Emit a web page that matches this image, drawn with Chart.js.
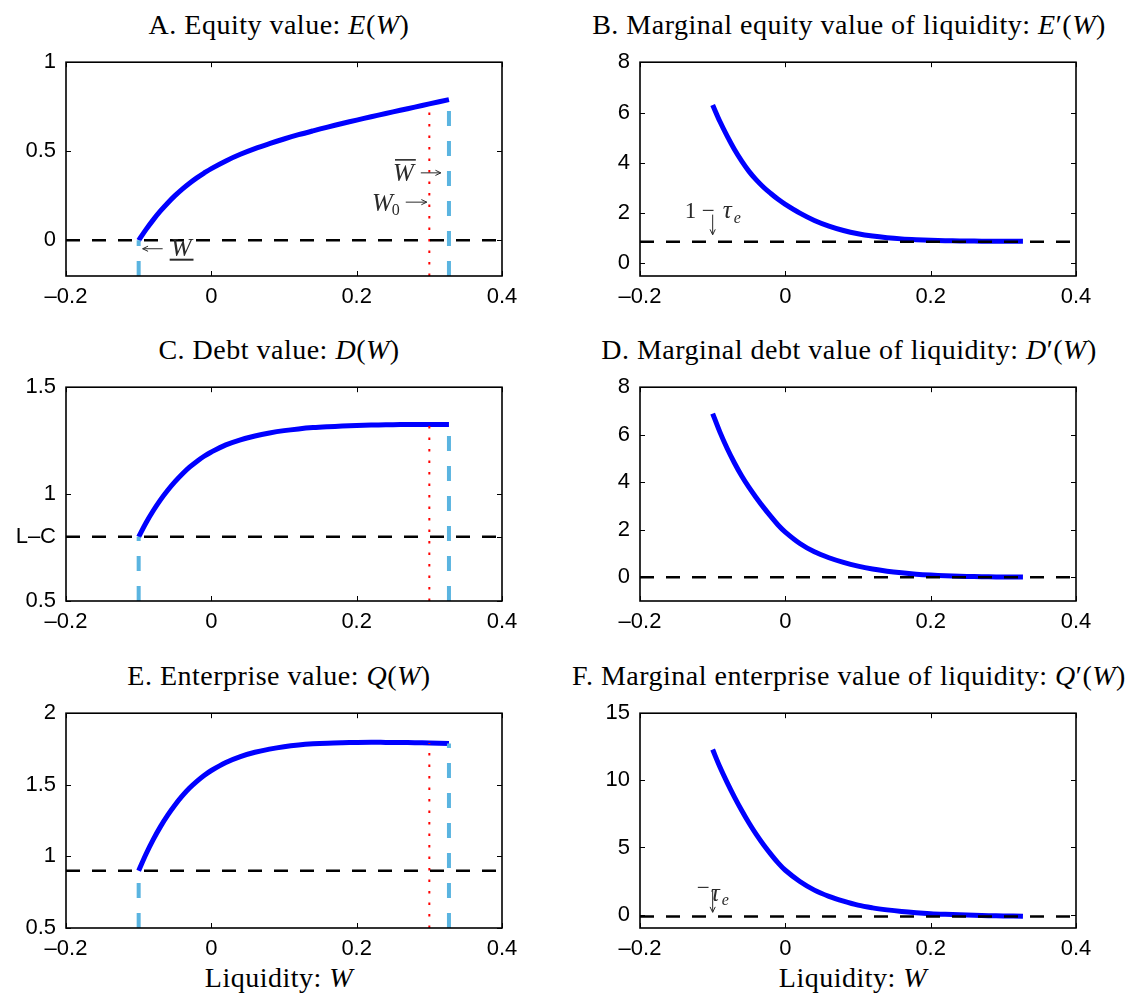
<!DOCTYPE html>
<html>
<head>
<meta charset="utf-8">
<script src="https://cdn.jsdelivr.net/npm/chart.js@4.4.1/dist/chart.umd.min.js"></script>
<style>
  body { margin: 0; background: #fff; }
  #page { position: relative; width: 1127px; height: 995px; overflow: hidden; background: #fff; }
  #page canvas { position: absolute; }
  .title {
    position: absolute; white-space: nowrap; color: #000;
    font-family: "Liberation Serif", serif; font-size: 28px; line-height: 28px;
    letter-spacing: 0.5px;
    transform: translateX(-50%);
  }
</style>
</head>
<body>
<div id="page"></div>
<script>
// liquidity grid W and the six value functions
const wGrid = [-0.1, -0.09, -0.08, -0.07, -0.06, -0.05, -0.04, -0.03, -0.02, -0.01, 0,
  0.02, 0.04, 0.06, 0.08, 0.1, 0.12, 0.14, 0.16, 0.18, 0.2, 0.22, 0.24, 0.26, 0.28, 0.3, 0.327];
const equityValue = [0, 0.06, 0.115, 0.165, 0.21, 0.251, 0.288, 0.321, 0.351, 0.378, 0.403,
  0.446, 0.483, 0.515, 0.543, 0.569, 0.593, 0.615, 0.636, 0.656, 0.675, 0.694, 0.712, 0.73, 0.748, 0.766, 0.79];
const marginalEquity = [6.3, 5.64, 5.06, 4.53, 4.07, 3.66, 3.32, 3.03, 2.78, 2.55, 2.35,
  2.0, 1.71, 1.485, 1.31, 1.18, 1.088, 1.022, 0.976, 0.945, 0.922, 0.906, 0.895, 0.887, 0.881, 0.878, 0.877];
const debtValue = [0.8, 0.865, 0.922, 0.973, 1.018, 1.058, 1.094, 1.126, 1.153, 1.177, 1.197,
  1.23, 1.254, 1.272, 1.286, 1.297, 1.305, 1.311, 1.315, 1.318, 1.321, 1.323, 1.324, 1.325, 1.326, 1.326, 1.326];
const marginalDebt = [6.89, 6.11, 5.42, 4.81, 4.26, 3.78, 3.35, 2.94, 2.56, 2.2, 1.9,
  1.42, 1.07, 0.82, 0.625, 0.468, 0.346, 0.254, 0.185, 0.131, 0.092, 0.063, 0.042, 0.027, 0.017, 0.011, 0.006];
const enterpriseValue = [0.9, 1.015, 1.117, 1.208, 1.288, 1.359, 1.422, 1.477, 1.524, 1.565, 1.6,
  1.656, 1.697, 1.727, 1.749, 1.766, 1.778, 1.786, 1.791, 1.794, 1.796, 1.797, 1.796, 1.795, 1.794, 1.792, 1.789];
const marginalEnterprise = [12.29, 10.99, 9.83, 8.75, 7.75, 6.82, 5.97, 5.2, 4.5, 3.85, 3.3,
  2.46, 1.82, 1.36, 1.0, 0.7, 0.5, 0.35, 0.23, 0.14, 0.07, 0.02, -0.02, -0.05, -0.08, -0.1, -0.12];

// boundaries and reference levels
const lowerW = -0.1;   // liquidation boundary (W underline)
const upperW = 0.327;  // payout boundary (W bar)
const w0 = 0.3;        // initial liquidity
const levelA = 0, levelB = 0.86, levelC = 0.8, levelD = 0, levelE = 0.9, levelF = -0.14;

// axes
const xRange = [-0.2, 0.4];
const xTicks = [-0.2, 0, 0.2, 0.4];
const yRangeA = [-0.2, 1], yTicksA = [0, 0.5, 1];
const yRangeB = [-0.5, 8], yTicksB = [0, 2, 4, 6, 8];
const yRangeC = [0.5, 1.5], yTicksC = [0.5, 0.8, 1, 1.5], yTickLabelsC = ['0.5', 'L\u2013C', '1', '1.5'];
const yRangeD = [-1, 8], yTicksD = [0, 2, 4, 6, 8];
const yRangeE = [0.5, 2], yTicksE = [0.5, 1, 1.5, 2];
const yRangeF = [-1, 15], yTicksF = [0, 5, 10, 15];

// layout
const colLeft = [66, 640];
const titleShift = [-5, -9];
const rowTop = [55, 380, 706];
const plotH = [221, 221, 222];
const plotW = 436;
const axisW = 66, axisH = 40, padTop = 16, canvasW = 540;

const tickFont = { family: '"Liberation Sans", Arial, sans-serif', size: 22 };
const noteColor = '#2a2a2a';
const fmt = v => String(Math.round(v * 100) / 100).replace('-', '\u2013');

function put(ctx, str, x, y, font) {
  ctx.font = font;
  ctx.fillText(str, x, y);
  return ctx.measureText(str).width;
}
function seg(ctx, x1, y1, x2, y2, w) {
  ctx.lineWidth = w;
  ctx.beginPath(); ctx.moveTo(x1, y1); ctx.lineTo(x2, y2); ctx.stroke();
}
function arrow(ctx, x1, y1, x2, y2) {
  seg(ctx, x1, y1, x2, y2, 1);
  const a = Math.atan2(y2 - y1, x2 - x1), h = 6;
  ctx.beginPath();
  ctx.moveTo(x2 - h * Math.cos(a - 0.45), y2 - h * Math.sin(a - 0.45));
  ctx.lineTo(x2, y2);
  ctx.lineTo(x2 - h * Math.cos(a + 0.45), y2 - h * Math.sin(a + 0.45));
  ctx.stroke();
}

const it = 'italic 25px "Liberation Serif", serif';
const rm = '23px "Liberation Serif", serif';
const sub = '16px "Liberation Serif", serif';
const subIt = 'italic 16px "Liberation Serif", serif';

const notes = {
  A(chart) {
    const { ctx, scales: { x, y } } = chart;
    // W bar ->
    let px = x.getPixelForValue(0.25), py = y.getPixelForValue(0.334);
    let w = put(ctx, 'W', px, py, it);
    seg(ctx, px + 2, py - 21, px + w + 2, py - 21, 1.6);
    arrow(ctx, px + w + 7, py - 8, px + w + 27, py - 8);
    // W0 ->
    px = x.getPixelForValue(0.221); py = y.getPixelForValue(0.164);
    w = put(ctx, 'W', px, py, it);
    w += put(ctx, '0', px + w - 1, py + 4, sub);
    arrow(ctx, px + w + 5, py - 9, px + w + 26, py - 9);
    // <- W underline
    px = x.getPixelForValue(lowerW) + 4; py = y.getPixelForValue(-0.047);
    arrow(ctx, px + 20, py, px, py);
    const wx = px + 28, wy = y.getPixelForValue(-0.086);
    w = put(ctx, 'W', wx, wy, it);
    seg(ctx, wx - 1, wy + 4, wx + w + 2, wy + 4, 2);
  },
  B(chart) {
    const { ctx, scales: { x, y } } = chart;
    const ax = x.getPixelForValue(lowerW);
    const py = y.getPixelForValue(1.8);
    put(ctx, '1', ax - 28, py, rm);
    put(ctx, '\u2212', ax - 11, py, rm);
    put(ctx, '\u03C4', ax + 10, py, it);
    put(ctx, 'e', ax + 21, py + 5, subIt);
    arrow(ctx, ax, y.getPixelForValue(1.94), ax, y.getPixelForValue(1.14));
  },
  F(chart) {
    const { ctx, scales: { x, y } } = chart;
    const ax = x.getPixelForValue(lowerW);
    const py = y.getPixelForValue(1.03);
    put(ctx, '\u2212', ax - 16, py - 6, rm);
    put(ctx, '\u03C4', ax - 2, py, it);
    put(ctx, 'e', ax + 9, py + 4, subIt);
    arrow(ctx, ax, y.getPixelForValue(1.9), ax, y.getPixelForValue(0.17));
  }
};

// box with inward ticks on all four sides
const matlabFrame = {
  id: 'matlabFrame',
  afterDraw(chart) {
    const { ctx, chartArea: a, scales: { x, y } } = chart;
    ctx.save();
    ctx.strokeStyle = '#000';
    ctx.lineWidth = 1;
    ctx.beginPath();
    x.ticks.forEach(t => {
      const px = Math.round(x.getPixelForValue(t.value)) + 0.5;
      ctx.moveTo(px, a.bottom); ctx.lineTo(px, a.bottom - 5);
      ctx.moveTo(px, a.top); ctx.lineTo(px, a.top + 5);
    });
    y.ticks.forEach(t => {
      const py = Math.round(y.getPixelForValue(t.value)) + 0.5;
      ctx.moveTo(a.left, py); ctx.lineTo(a.left + 5, py);
      ctx.moveTo(a.right, py); ctx.lineTo(a.right - 5, py);
    });
    ctx.stroke();
    ctx.lineWidth = 1.6;
    ctx.strokeRect(a.left, a.top, a.right - a.left, a.bottom - a.top);
    ctx.fillStyle = noteColor;
    ctx.strokeStyle = noteColor;
    ctx.textBaseline = 'alphabetic';
    ctx.textAlign = 'left';
    const key = chart.canvas.dataset.key;
    if (notes[key]) notes[key](chart);
    ctx.restore();
  }
};

const panels = [
  { key: 'A', col: 0, row: 0, title: 'A. Equity value: <i>E</i>(<i>W</i>)',
    values: equityValue, yRange: yRangeA, yTicks: yTicksA, level: levelA, bounds: true },
  { key: 'B', col: 1, row: 0, title: 'B. Marginal equity value of liquidity: <i>E</i>\u2032(<i>W</i>)',
    values: marginalEquity, yRange: yRangeB, yTicks: yTicksB, level: levelB, bounds: false },
  { key: 'C', col: 0, row: 1, title: 'C. Debt value: <i>D</i>(<i>W</i>)',
    values: debtValue, yRange: yRangeC, yTicks: yTicksC, yLabels: yTickLabelsC, level: levelC, bounds: true },
  { key: 'D', col: 1, row: 1, title: 'D. Marginal debt value of liquidity: <i>D</i>\u2032(<i>W</i>)',
    values: marginalDebt, yRange: yRangeD, yTicks: yTicksD, level: levelD, bounds: false },
  { key: 'E', col: 0, row: 2, title: 'E. Enterprise value: <i>Q</i>(<i>W</i>)',
    values: enterpriseValue, yRange: yRangeE, yTicks: yTicksE, level: levelE, bounds: true, xLabel: true },
  { key: 'F', col: 1, row: 2, title: 'F. Marginal enterprise value of liquidity: <i>Q</i>\u2032(<i>W</i>)',
    values: marginalEnterprise, yRange: yRangeF, yTicks: yTicksF, level: levelF, bounds: false, xLabel: true }
];

const page = document.getElementById('page');

panels.forEach(p => {
  const left = colLeft[p.col], top = rowTop[p.row], h = plotH[p.row];
  const cx = left + plotW / 2 + titleShift[p.col];

  const title = document.createElement('div');
  title.className = 'title';
  title.innerHTML = p.title;
  title.style.left = cx + 'px';
  title.style.top = (top - 21 - 23.5) + 'px';
  page.appendChild(title);

  if (p.xLabel) {
    const xl = document.createElement('div');
    xl.className = 'title';
    xl.innerHTML = 'Liquidity: <i>W</i>';
    xl.style.left = (left + plotW / 2 - 5) + 'px';
    xl.style.top = (987 - 23.5) + 'px';
    page.appendChild(xl);
  }

  const canvas = document.createElement('canvas');
  canvas.width = canvasW;
  canvas.height = padTop + h + axisH;
  canvas.style.left = (left - axisW) + 'px';
  canvas.style.top = (top - padTop) + 'px';
  canvas.dataset.key = p.key;
  page.appendChild(canvas);

  const yMin = p.yRange[0];
  const last = p.values.length - 1;
  const datasets = [
    {
      data: wGrid.map((w, i) => ({ x: w, y: p.values[i] })),
      borderColor: '#0000ff', borderWidth: 5, tension: 0.35, order: 3
    },
    {
      data: [{ x: xRange[0], y: p.level }, { x: xRange[1], y: p.level }],
      borderColor: '#000', borderWidth: 2.5, borderDash: [14, 12], order: 1
    }
  ];
  if (p.bounds) {
    const iw0 = wGrid.indexOf(w0);
    datasets.push(
      { data: [{ x: lowerW, y: yMin }, { x: lowerW, y: p.values[0] }],
        borderColor: '#5ab4e0', borderWidth: 4, borderDash: [15, 15], order: 2 },
      { data: [{ x: upperW, y: yMin }, { x: upperW, y: p.values[last] }],
        borderColor: '#5ab4e0', borderWidth: 4, borderDash: [15, 15], order: 2 },
      { data: [{ x: w0, y: yMin }, { x: w0, y: p.values[iw0] }],
        borderColor: '#ff0000', borderWidth: 2, borderDash: [2.5, 9], order: 2 }
    );
  }

  new Chart(canvas, {
    type: 'line',
    data: { datasets },
    options: {
      responsive: false,
      animation: false,
      devicePixelRatio: 1,
      events: [],
      elements: { point: { radius: 0 }, line: { borderCapStyle: 'butt' } },
      layout: { padding: { top: padTop, right: canvasW - axisW - plotW, left: 0, bottom: 0 } },
      plugins: { legend: { display: false }, tooltip: { enabled: false } },
      scales: {
        x: {
          type: 'linear', min: xRange[0], max: xRange[1],
          afterBuildTicks: s => { s.ticks = xTicks.map(v => ({ value: v })); },
          afterFit: s => { s.height = axisH; },
          grid: { display: false, drawTicks: false },
          border: { display: false },
          ticks: { autoSkip: false, maxRotation: 0, padding: 8, color: '#000', font: tickFont, callback: v => fmt(v) }
        },
        y: {
          type: 'linear', min: p.yRange[0], max: p.yRange[1],
          afterBuildTicks: s => { s.ticks = p.yTicks.map(v => ({ value: v })); },
          afterFit: s => { s.width = axisW; },
          grid: { display: false, drawTicks: false },
          border: { display: false },
          ticks: { autoSkip: false, padding: 10, color: '#000', font: tickFont,
            callback: (v, i) => p.yLabels ? p.yLabels[i] : fmt(v) }
        }
      }
    },
    plugins: [matlabFrame]
  });
});
</script>
</body>
</html>
